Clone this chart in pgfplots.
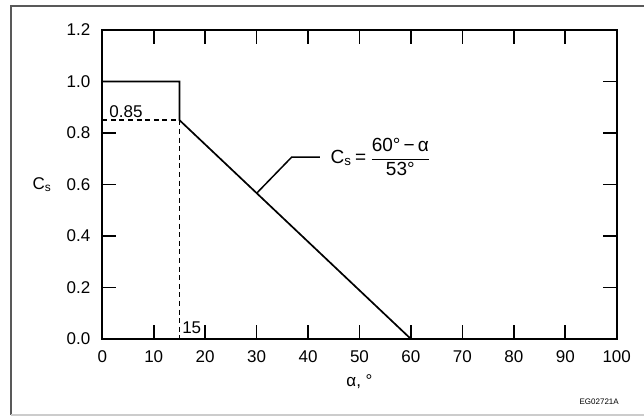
\documentclass[border=0pt]{standalone}
\usepackage{pgfplots}
\pgfplotsset{compat=1.18}
\usepackage{fontspec}
\setmainfont{Liberation Sans}

\begin{document}
\begin{tikzpicture}
\begin{axis}[
    scale only axis,
    width=257.2pt, height=154.5pt,
    xmin=0, xmax=100, ymin=0, ymax=1.2,
    xtick={0,10,...,100},
    ytick={0,0.2,...,1.2},
    tick align=inside,
    major tick length=7pt,
    axis line style={line width=0.9pt},
    every tick/.style={black, line width=0.8pt},
    font=\fontsize{8.5}{10}\selectfont,
    /pgf/number format/assume math mode=true,
    yticklabel style={/pgf/number format/fixed, /pgf/number format/fixed zerofill,
        /pgf/number format/precision=1, xshift=-2.5pt},
    xticklabel style={yshift=-2.5pt},
    xlabel={α, °},
    xlabel style={yshift=1pt},
    ylabel={C\textsubscript{s}},
    every axis y label/.style={at={(ticklabel cs:0.5)}, anchor=east, xshift=-0.5pt},
    clip=false,
]
\addplot[black, line width=0.85pt] coordinates {(0,1) (15,1) (15,0.85) (60,0)};
\addplot[black, line width=0.75pt, dash pattern=on 2.5pt off 1.8pt] coordinates {(0,0.85) (15,0.85) (15,0)};
\addplot[black, line width=0.75pt] coordinates {(30,0.566) (36.8,0.706) (42.3,0.706)};
\node[anchor=south west, inner sep=0, yshift=1pt] at (axis cs:1.3,0.85) {0.85};
\node[anchor=south west, inner sep=0, xshift=1.2pt, yshift=2.3pt] at (axis cs:15,0) {15};
\node[anchor=west, inner sep=0, font=\fontsize{9.5}{11}\selectfont] at (axis cs:44.3,0.706)
  {C\textsubscript{s}\,=\,$\displaystyle\frac{\mbox{60°\,−\,α}}{\mbox{53°}}$};
\node[inner sep=0, font=\fontsize{4}{5}\selectfont] at (axis cs:96.6,-0.243) {EG02721A};
\end{axis}
\draw[gray!70!black, line width=1pt] (-45.65pt,-38pt) -- (-45.65pt,166.5pt) -- (270.85pt,166.5pt);
\draw[gray!40, line width=0.6pt] (-45.65pt,-38pt) -- (270.85pt,-38pt);
\pgfresetboundingbox
\useasboundingbox (-51.15pt,-40pt) rectangle (270.85pt,169.5pt);
\end{tikzpicture}
\end{document}
